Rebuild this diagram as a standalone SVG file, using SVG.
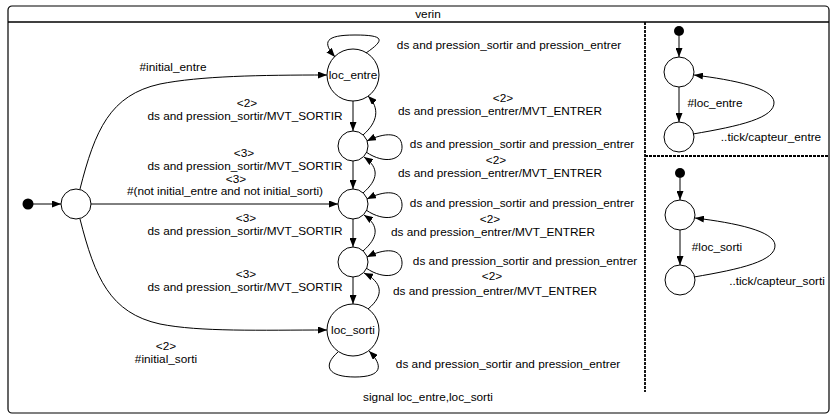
<svg xmlns="http://www.w3.org/2000/svg" width="837" height="419" viewBox="0 0 837 419">
  <style>
    text { font-family: "Liberation Sans", Arial, sans-serif; font-size: 11.8px; fill: #000; text-anchor: middle; }
    .st { fill: #fff; stroke: #000; stroke-width: 1; }
    .init { fill: #000; stroke: none; }
    .edge { fill: none; stroke: #000; stroke-width: 1; marker-end: url(#arrow); }
    .frame { fill: #fff; stroke: #000; stroke-width: 1.2; }
    .sep { fill: none; stroke: #000; stroke-width: 1.8; stroke-dasharray: 3 1; }
  </style>
  <defs>
    <marker id="arrow" markerUnits="userSpaceOnUse" markerWidth="9" markerHeight="7" refX="9" refY="3.5" orient="auto">
      <path d="M0,0 L9,3.5 L0,7 z" fill="#000"/>
    </marker>
  </defs>

  <!-- enclosing module "verin" -->
  <g id="verin">
    <rect class="frame" x="8" y="6" width="821" height="407" rx="4"/>
    <line x1="8" y1="22" x2="829" y2="22" stroke="#000" stroke-width="1.5"/>
    <text x="428" y="18">verin</text>
    <line class="sep" x1="645" y1="22" x2="645" y2="392"/>
    <line class="sep" x1="645" y1="156" x2="829" y2="156"/>
    <text x="428" y="401">signal loc_entre,loc_sorti</text>
  </g>

  <!-- main automaton states -->
  <g id="start"><circle class="init" cx="28" cy="204" r="5.5"/></g>
  <g id="s_init"><circle class="st" cx="76" cy="204" r="15"/></g>
  <g id="loc_entre"><circle class="st" cx="353" cy="75" r="26"/><text x="353" y="79">loc_entre</text></g>
  <g id="s_a"><circle class="st" cx="353" cy="146" r="15"/></g>
  <g id="s_b"><circle class="st" cx="353" cy="204" r="15"/></g>
  <g id="s_c"><circle class="st" cx="353" cy="262" r="15"/></g>
  <g id="loc_sorti"><circle class="st" cx="353" cy="330" r="26"/><text x="353" y="334">loc_sorti</text></g>

  <!-- sensor automaton: capteur_entre -->
  <g id="ce_start"><circle class="init" cx="679" cy="31" r="5"/></g>
  <g id="ce_wait"><circle class="st" cx="679" cy="72" r="15"/></g>
  <g id="ce_hit"><circle class="st" cx="679" cy="137" r="15"/></g>

  <!-- sensor automaton: capteur_sorti -->
  <g id="cs_start"><circle class="init" cx="680" cy="173" r="5"/></g>
  <g id="cs_wait"><circle class="st" cx="680" cy="215" r="15"/></g>
  <g id="cs_hit"><circle class="st" cx="680" cy="280" r="15"/></g>

  <g id="connectors">
    <!-- entry -->
    <path class="edge" d="M33 204 L61 204"/>
    <path class="edge" d="M91 204 L338 204"/>
    <path class="edge" d="M80 189 C95 130, 110 95, 160 84 C200 76, 260 75, 327 75"/>
    <path class="edge" d="M80 219 C95 278, 110 313, 160 324 C200 332, 260 330, 327 330"/>

    <!-- downward moves -->
    <path class="edge" d="M353 101 L353 131"/>
    <path class="edge" d="M353 161 L353 189"/>
    <path class="edge" d="M353 219 L353 247"/>
    <path class="edge" d="M353 277 L353 304"/>

    <!-- upward moves -->
    <path class="edge" d="M363 135 C378 122, 380 108, 368 96"/>
    <path class="edge" d="M363 193 C378 180, 380 168, 364 157"/>
    <path class="edge" d="M363 251 C378 238, 380 226, 364 215"/>
    <path class="edge" d="M368 309 C385 295, 382 282, 364 273"/>

    <!-- self loops -->
    <path class="edge" d="M366 53 C385 40, 385 35, 355 35 C325 35, 322 42, 335 57"/>
    <path class="edge" d="M366 152 C385 165, 403 160, 402 146 C401 132, 385 132, 367 141"/>
    <path class="edge" d="M366 210 C385 223, 403 218, 402 204 C401 190, 385 190, 367 199"/>
    <path class="edge" d="M366 268 C385 281, 403 276, 402 262 C401 248, 385 248, 367 257"/>
    <path class="edge" d="M338 352 C322 366, 328 377, 355 377 C382 377, 384 366, 369 351"/>

    <!-- sensor automata -->
    <path class="edge" d="M679 36 L679 57"/>
    <path class="edge" d="M679 87 L679 122"/>
    <path class="edge" d="M693 134 C740 126, 775 118, 774 102 C773 88, 735 80, 694 75"/>
    <path class="edge" d="M680 178 L680 200"/>
    <path class="edge" d="M680 230 L680 265"/>
    <path class="edge" d="M694 277 C741 269, 776 261, 775 245 C774 231, 736 223, 695 218"/>

    <!-- labels -->
    <text x="173" y="71">#initial_entre</text>
    <text x="509" y="49">ds and pression_sortir and pression_entrer</text>
    <text x="247" y="107">&lt;2&gt;</text>
    <text x="245" y="120">ds and pression_sortir/MVT_SORTIR</text>
    <text x="503" y="102">&lt;2&gt;</text>
    <text x="500" y="115">ds and pression_entrer/MVT_ENTRER</text>
    <text x="522" y="148">ds and pression_sortir and pression_entrer</text>
    <text x="244" y="157">&lt;3&gt;</text>
    <text x="245" y="170">ds and pression_sortir/MVT_SORTIR</text>
    <text x="496" y="164">&lt;2&gt;</text>
    <text x="500" y="177">ds and pression_entrer/MVT_ENTRER</text>
    <text x="236" y="183">&lt;3&gt;</text>
    <text x="225" y="195">#(not initial_entre and not initial_sorti)</text>
    <text x="522" y="207">ds and pression_sortir and pression_entrer</text>
    <text x="246" y="222">&lt;3&gt;</text>
    <text x="245" y="235">ds and pression_sortir/MVT_SORTIR</text>
    <text x="490" y="223">&lt;2&gt;</text>
    <text x="493" y="236">ds and pression_entrer/MVT_ENTRER</text>
    <text x="525" y="265">ds and pression_sortir and pression_entrer</text>
    <text x="246" y="278">&lt;3&gt;</text>
    <text x="245" y="291">ds and pression_sortir/MVT_SORTIR</text>
    <text x="492" y="280">&lt;2&gt;</text>
    <text x="495" y="295">ds and pression_entrer/MVT_ENTRER</text>
    <text x="166" y="350">&lt;2&gt;</text>
    <text x="166" y="363">#initial_sorti</text>
    <text x="508" y="368">ds and pression_sortir and pression_entrer</text>
    <text x="715" y="107">#loc_entre</text>
    <text x="771" y="141">..tick/capteur_entre</text>
    <text x="717" y="251">#loc_sorti</text>
    <text x="777" y="285">..tick/capteur_sorti</text>
  </g>
</svg>
